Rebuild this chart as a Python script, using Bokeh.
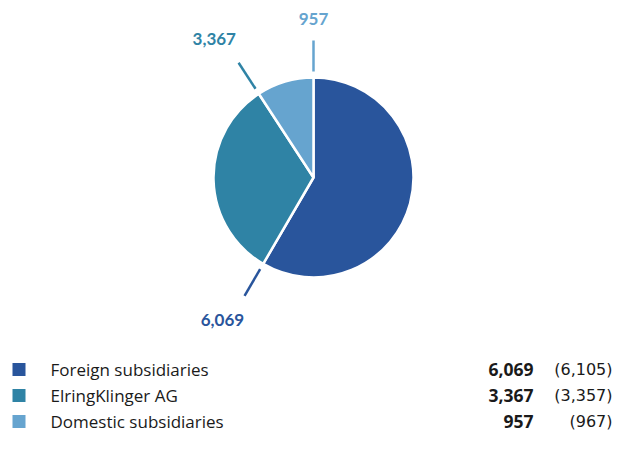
import math
from bokeh.plotting import figure
from bokeh.models import ColumnDataSource, Range1d
from bokeh.core.properties import value
from bokeh.embed import file_html
from bokeh.resources import INLINE

# ---- data ----
categories = ["Foreign subsidiaries", "ElringKlinger AG", "Domestic subsidiaries"]
values_current = [6069, 3367, 957]
values_prior = [6105, 3357, 967]
label_current = ["6,069", "3,367", "957"]
label_prior = ["(6,105)", "(3,357)", "(967)"]
colors = ["#29559C", "#2F83A5", "#66A4CF"]

# ---- layout / style ----
W, H = 619, 448
CX, CY = 313, H - 177
R = 100
FONT = "Lato"
LFONT = "Open Sans"

p = figure(width=W, height=H, output_backend="svg", toolbar_location=None,
           x_range=Range1d(0, W), y_range=Range1d(0, H), min_border=0)
p.axis.visible = False
p.grid.visible = False
p.outline_line_color = None
p.background_fill_color = "white"

total = sum(values_current)
starts, ends = [], []
acc = 0.0
for v in values_current:
    starts.append(acc / total * 2 * math.pi)
    acc += v
    ends.append(acc / total * 2 * math.pi)

# clockwise-from-top angle -> bokeh angle
src = ColumnDataSource(dict(
    start=[math.pi / 2 - s for s in starts],
    end=[math.pi / 2 - e for e in ends],
    color=colors,
))
p.wedge(x=CX, y=CY, radius=R, start_angle="start", end_angle="end",
        direction="clock", fill_color="color", line_color="white",
        line_width=2.5, source=src)

# leader lines at end of each slice
r0, r1 = 106, 137
lx0 = [CX + r0 * math.sin(e) for e in ends]
ly0 = [CY + r0 * math.cos(e) for e in ends]
lx1 = [CX + r1 * math.sin(e) for e in ends]
ly1 = [CY + r1 * math.cos(e) for e in ends]
p.segment(x0=lx0, y0=ly0, x1=lx1, y1=ly1, line_color=colors, line_width=2.5)

# outer labels
lab_r = [165, 165, 159]
lab_dx = [-8, -9, 0]
tx = [CX + lab_r[i] * math.sin(ends[i]) + lab_dx[i] for i in range(3)]
ty = [CY + lab_r[i] * math.cos(ends[i]) for i in range(3)]
p.text(x=tx, y=ty, text=label_current, text_color=colors,
       text_font=value(FONT), text_font_style="bold", text_font_size="17px",
       text_align="center", text_baseline="middle")

# legend
leg_y = [H - 369, H - 395, H - 421]
p.scatter(x=[18.5] * 3, y=leg_y, marker="square", size=13, fill_color=colors,
          line_color=None)
p.text(x=[50] * 3, y=leg_y, text=categories, text_color="#1a1a1a",
       text_font=value(LFONT), text_font_size="17px",
       text_align="left", text_baseline="middle")
p.text(x=[533] * 3, y=leg_y, text=label_current, text_color="#1a1a1a",
       text_font=value(LFONT), text_font_style="bold", text_font_size="17.5px",
       text_align="right", text_baseline="middle")
p.text(x=[612] * 3, y=leg_y, text=label_prior, text_color="#1a1a1a",
       text_font=value("DejaVu Sans"), text_font_size="16px",
       text_align="right", text_baseline="middle")

open("out.html", "w").write(file_html(p, INLINE))
